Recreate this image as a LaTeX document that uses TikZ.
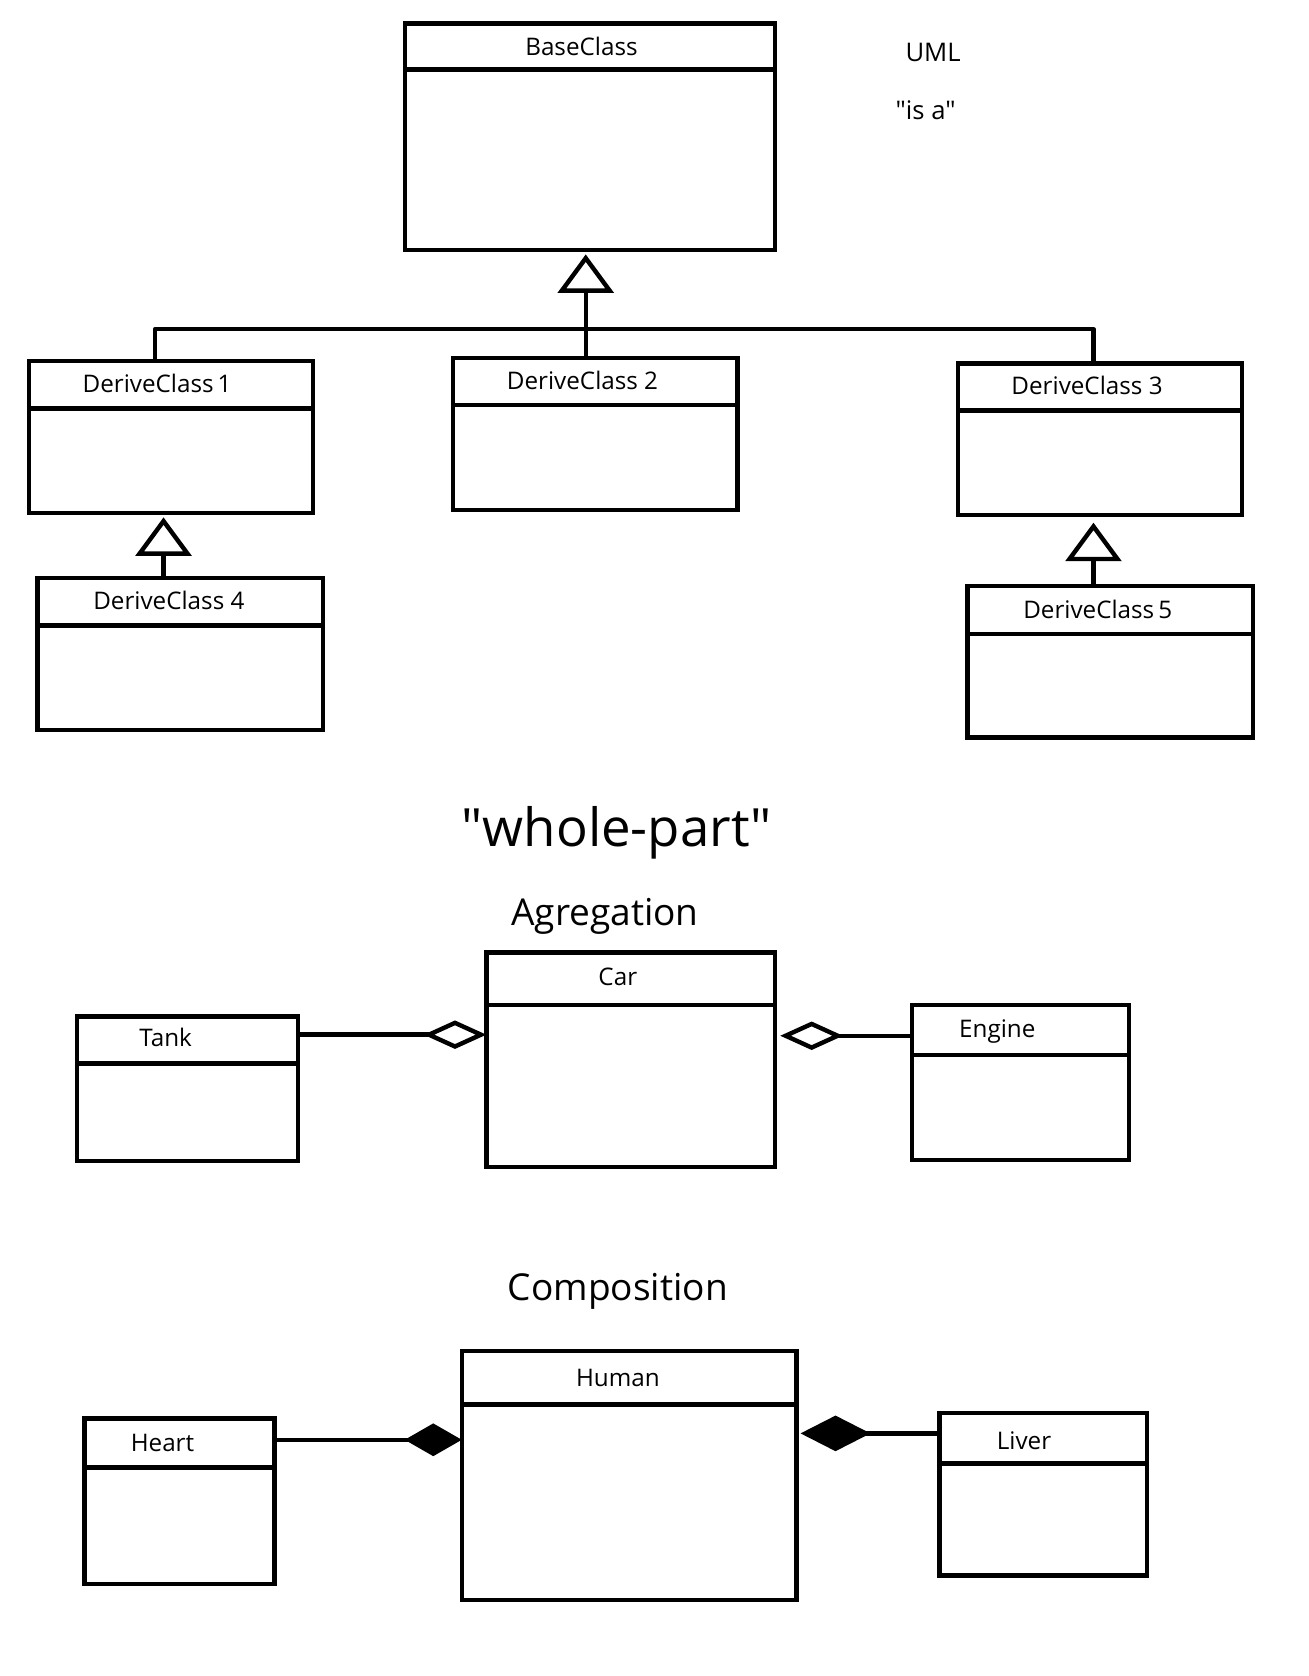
\documentclass[tikz,border=0pt]{standalone}
\usepackage{fontspec}
\setmainfont{Open Sans}[Ligatures=TeXOff]
\usetikzlibrary{arrows.meta}
\usetikzlibrary{calc}

\tikzset{
  line/.style={line width=3.1pt, line join=round},
  umlbox/.style={draw, rectangle, line width=3.1pt, inner sep=0pt, outer sep=0pt, anchor=north west},
  title/.style={inner sep=0.75pt, font=\fontsize{17}{20}\selectfont},
  isa/.style={line, -{Triangle[open, length=27pt, width=39pt]}},
  agg/.style={line, -{Diamond[open, length=44pt, width=20pt]}},
  comp/.style={line, -{Diamond[length=40pt, width=23pt]}},
  bigcomp/.style={line, -{Diamond[length=49pt, width=25pt]}}
}

\begin{document}
\begin{tikzpicture}[x=0.75pt,y=0.75pt,yscale=-1]
\useasboundingbox (0,0) rectangle (1224,1568);

%Shape: class boxes, inheritance part
\node[umlbox, minimum width=259.5pt, minimum height=159pt] (base) at (379,22) {};
\node[umlbox, minimum width=199.5pt, minimum height=106.5pt] (dc1) at (27,338) {};
\node[umlbox, minimum width=199.5pt, minimum height=106.5pt] (dc2) at (424,335) {};
\node[umlbox, minimum width=199.5pt, minimum height=106.5pt] (dc3) at (896,340) {};
\node[umlbox, minimum width=200.25pt, minimum height=106.5pt] (dc4) at (35,541) {};
\node[umlbox, minimum width=200.25pt, minimum height=106.5pt] (dc5) at (905,548) {};

%Shape: class boxes, whole-part part
\node[umlbox, minimum width=202.5pt, minimum height=150.75pt] (car) at (455,891) {};
\node[umlbox, minimum width=155.25pt, minimum height=101.25pt] (tank) at (72,951) {};
\node[umlbox, minimum width=152.25pt, minimum height=108.75pt] (engine) at (853,940) {};
\node[umlbox, minimum width=234.75pt, minimum height=174.75pt] (human) at (432,1264) {};
\node[umlbox, minimum width=133.5pt, minimum height=116.25pt] (heart) at (79,1327) {};
\node[umlbox, minimum width=145.5pt, minimum height=114pt] (liver) at (879,1322) {};

%Dividers under the class names
\foreach \n/\d in {base/43, dc1/44, dc2/44, dc3/44, dc4/44, dc5/45,
                   car/49, tank/44, engine/47, human/50, heart/46, liver/47}
  \draw[line] ($(\n.north west)+(0,\d)$) -- ($(\n.north east)+(0,\d)$);

% Text Node
\node[title] (base-t) at (544,43) {BaseClass};
\node[title] (dc1-t) at (147,359) {DeriveClass\,1};
\node[title] (dc2-t) at (545,356) {DeriveClass 2};
\node[title] (dc3-t) at (1017,361) {DeriveClass 3};
\node[title] (dc4-t) at (158,562) {DeriveClass 4};
\node[title] (dc5-t) at (1027,570) {DeriveClass\,5};
\node[title] (car-t) at (578,914) {Car};
\node[title] (tank-t) at (155,971) {Tank};
\node[title] (engine-t) at (933,965) {Engine};
\node[title] (human-t) at (578,1289) {Human};
\node[title] (heart-t) at (152,1350) {Heart};
\node[title] (liver-t) at (958,1348) {Liver};

% Text Node
\node[inner sep=0.75pt, font=\fontsize{18}{22}\selectfont] (uml) at (873,49) {UML};
\node[inner sep=0.75pt, font=\fontsize{18}{22}\selectfont] (isa) at (866,103) {"is a"};
\node[inner sep=0.75pt, font=\fontsize{37}{44}\selectfont] (wholepart) at (577,779) {"whole-part"};
\node[inner sep=0.75pt, font=\fontsize{26}{31}\selectfont] (agregation) at (566,857) {Agregation};
\node[inner sep=0.75pt, font=\fontsize{26}{31}\selectfont] (composition) at (578,1208) {Composition};

%Inheritance
\coordinate (bar) at (548,308);
\draw[line] ($(dc1.north west)+(118,0)$) |- (bar) -| ($(dc3.north west)+(127,0)$);
\draw[line] ($(dc2.north west)+(124,0)$) -- (bar);
\draw[isa] (bar) -- ($(base.south west)+(169,4)$);
\draw[isa] ($(dc4.north west)+(118,0)$) -- ($(dc1.south west)+(126,4)$);
\draw[isa] ($(dc5.north west)+(118,0)$) -- ($(dc3.south west)+(127,7)$);

%Agregation
\draw[agg] ($(tank.north east)+(0,17)$) -- ($(car.north west)+(0,77)$);
\draw[agg] ($(engine.north west)+(0,29)$) -- ($(car.north east)+(5,78)$);

%Composition
\draw[comp] ($(heart.north east)+(0,20)$) -- ($(human.north west)+(0,83)$);
\draw[bigcomp] ($(liver.north west)+(0,19)$) -- ($(human.north east)+(4,77)$);
\end{tikzpicture}
\end{document}
